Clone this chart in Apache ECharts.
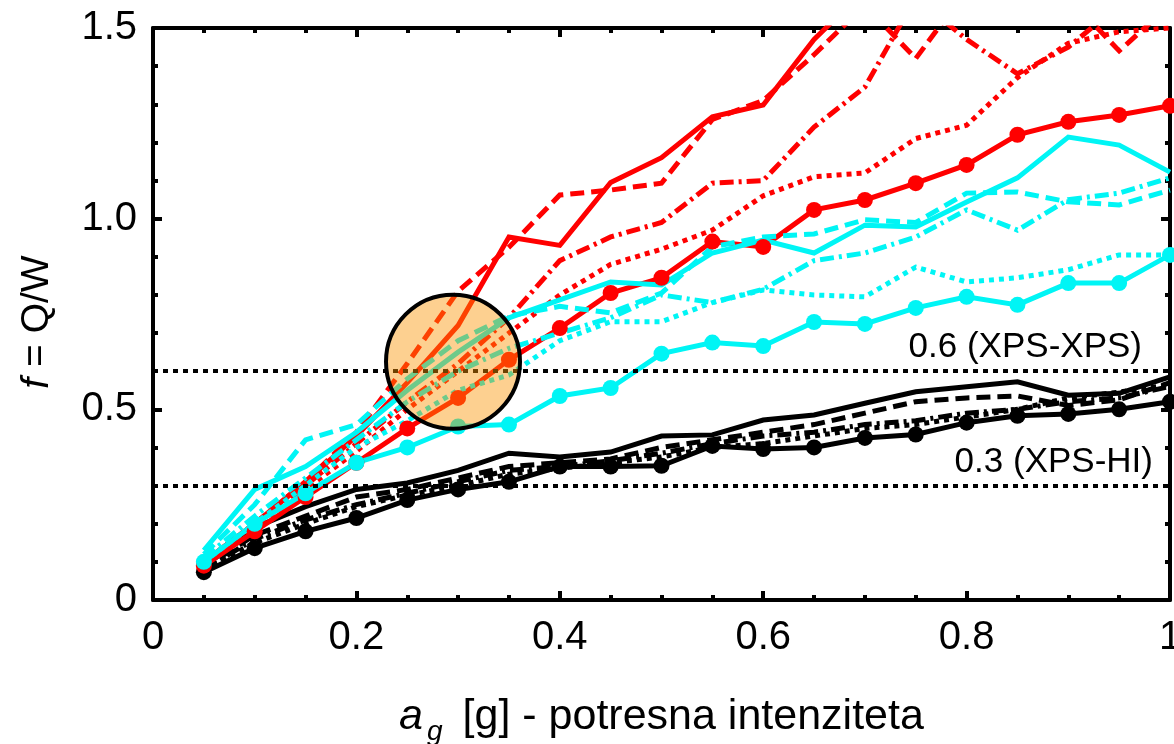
<!DOCTYPE html>
<html>
<head>
<meta charset="utf-8">
<script src="https://cdn.jsdelivr.net/npm/echarts@6/dist/echarts.min.js"></script>
<style>
  html, body { margin: 0; padding: 0; background: #fff; }
  #chart { width: 1174px; height: 744px; }
</style>
</head>
<body>
<div id="chart"></div>
<script>
// Ground acceleration a_g [g]
const ag = [0.05, 0.10, 0.15, 0.20, 0.25, 0.30, 0.35, 0.40, 0.45, 0.50,
            0.55, 0.60, 0.65, 0.70, 0.75, 0.80, 0.85, 0.90, 0.95, 1.00];

// Red family
const redMarked  = [0.09, 0.18, 0.27, 0.36, 0.45, 0.53, 0.63, 0.713, 0.805, 0.845, 0.94, 0.926, 1.023, 1.049, 1.093, 1.141, 1.22, 1.254, 1.272, 1.296];
const redSolid   = [0.10, 0.20, 0.31, 0.43, 0.57, 0.72, 0.952, 0.93, 1.095, 1.16, 1.267, 1.298, 1.47, 1.60, 1.65, 1.70, 1.75, 1.75, 1.80, 1.80];
const redDashed  = [0.10, 0.20, 0.31, 0.44, 0.62, 0.81, 0.925, 1.062, 1.075, 1.093, 1.26, 1.31, 1.43, 1.56, 1.42, 1.60, 1.62, 1.58, 1.44, 1.56];
const redDashDot = [0.10, 0.20, 0.30, 0.41, 0.52, 0.62, 0.74, 0.89, 0.952, 0.99, 1.093, 1.10, 1.24, 1.345, 1.58, 1.47, 1.38, 1.45, 1.56, 1.60];
const redDotted  = [0.10, 0.19, 0.29, 0.39, 0.50, 0.60, 0.70, 0.80, 0.88, 0.92, 0.97, 1.06, 1.11, 1.12, 1.21, 1.245, 1.37, 1.46, 1.49, 1.50];

// Cyan family
const cyanMarked  = [0.10, 0.20, 0.28, 0.36, 0.40, 0.455, 0.46, 0.535, 0.556, 0.646, 0.675, 0.666, 0.729, 0.724, 0.766, 0.795, 0.774, 0.831, 0.831, 0.905];
const cyanSolid   = [0.13, 0.29, 0.35, 0.44, 0.55, 0.65, 0.74, 0.787, 0.834, 0.826, 0.91, 0.944, 0.91, 0.983, 0.978, 1.044, 1.107, 1.214, 1.193, 1.122];
const cyanDashed  = [0.12, 0.25, 0.42, 0.46, 0.58, 0.68, 0.745, 0.77, 0.753, 0.805, 0.926, 0.952, 0.96, 0.997, 0.99, 1.067, 1.07, 1.044, 1.036, 1.075];
const cyanDashDot = [0.11, 0.22, 0.32, 0.42, 0.52, 0.60, 0.66, 0.70, 0.74, 0.80, 0.78, 0.815, 0.89, 0.91, 0.952, 1.023, 0.97, 1.05, 1.067, 1.107];
const cyanDotted  = [0.10, 0.20, 0.30, 0.40, 0.47, 0.55, 0.59, 0.68, 0.73, 0.73, 0.78, 0.813, 0.80, 0.795, 0.873, 0.834, 0.845, 0.866, 0.905, 0.905];

// Black family
const blackMarked  = [0.073, 0.136, 0.18, 0.215, 0.262, 0.29, 0.31, 0.35, 0.35, 0.352, 0.404, 0.396, 0.40, 0.425, 0.434, 0.465, 0.483, 0.488, 0.50, 0.52];
const blackSolid   = [0.087, 0.19, 0.245, 0.29, 0.307, 0.34, 0.385, 0.375, 0.388, 0.43, 0.433, 0.472, 0.485, 0.516, 0.546, 0.559, 0.572, 0.537, 0.542, 0.585];
const blackDashed  = [0.085, 0.17, 0.22, 0.27, 0.29, 0.32, 0.35, 0.36, 0.37, 0.40, 0.42, 0.44, 0.46, 0.49, 0.52, 0.53, 0.535, 0.51, 0.525, 0.57];
const blackDashDot = [0.08, 0.16, 0.21, 0.25, 0.28, 0.31, 0.34, 0.35, 0.365, 0.385, 0.41, 0.43, 0.44, 0.46, 0.47, 0.49, 0.50, 0.52, 0.53, 0.56];
const blackDotted  = [0.08, 0.15, 0.20, 0.245, 0.275, 0.30, 0.33, 0.345, 0.36, 0.375, 0.40, 0.41, 0.43, 0.45, 0.46, 0.48, 0.50, 0.53, 0.545, 0.565];

// Reference levels of the behaviour factor
const refLevels = [
  { value: 0.6, text: '0.6 (XPS-XPS)' },
  { value: 0.3, text: '0.3 (XPS-HI)' }
];

// Highlighted region (centre in data units)
const highlight = [[0.295, 0.625]];

// Tick labels
const xTickLabels = ['0', '0.2', '0.4', '0.6', '0.8', '1'];
const yTickLabels = ['0', '0.5', '1.0', '1.5'];

const FONT = "'Liberation Sans', Arial, sans-serif";
const RED = '#ff0000', CYAN = '#00f5f5', BLACK = '#000000';
const DASH = [14, 7], DASHDOT = [14, 5, 3, 5], DOT = [5, 5];

function pts(vals) { return ag.map((x, i) => [x, vals[i]]); }

function curve(vals, color, type, marked) {
  return {
    type: 'line',
    data: pts(vals),
    symbol: marked ? 'circle' : 'none',
    symbolSize: 16,
    showSymbol: !!marked,
    itemStyle: { color: color },
    lineStyle: { color: color, width: 5, type: type, cap: 'butt', join: 'miter' },
    z: 2,
    silent: true,
    animation: false
  };
}

const frameLine = { show: true, onZero: false, lineStyle: { color: '#000', width: 4 } };
const majorTick = { show: true, inside: true, length: 9, lineStyle: { color: '#000', width: 4 } };

function xAxisDef(pos, labels) {
  return {
    type: 'value', min: 0, max: 1, interval: 0.2, position: pos,
    axisLine: frameLine, axisTick: majorTick,
    minorTick: { show: true, splitNumber: 4, length: 5, lineStyle: { color: '#000', width: 4 } },
    splitLine: { show: false },
    axisLabel: {
      show: labels, fontSize: 40, color: '#000', fontFamily: FONT, margin: 18,
      formatter: v => xTickLabels[Math.round(v / 0.2)]
    }
  };
}
function yAxisDef(pos, labels) {
  return {
    type: 'value', min: 0, max: 1.5, interval: 0.5, position: pos,
    axisLine: frameLine, axisTick: majorTick,
    minorTick: { show: true, splitNumber: 5, length: 5, lineStyle: { color: '#000', width: 4 } },
    splitLine: { show: false },
    axisLabel: {
      show: labels, fontSize: 40, color: '#000', fontFamily: FONT, margin: 16,
      formatter: v => yTickLabels[Math.round(v / 0.5)]
    }
  };
}

const xMain = xAxisDef('bottom', true);
xMain.name = '{i|a}{sub|g}{t| [g] - potresna intenziteta}';
xMain.nameLocation = 'middle';
xMain.nameGap = 88;
xMain.nameTextStyle = {
  color: '#000', fontFamily: FONT, fontSize: 43,
  rich: {
    i: { fontSize: 43, fontStyle: 'italic', fontFamily: FONT, color: '#000' },
    sub: { fontSize: 28, fontStyle: 'italic', fontFamily: FONT, color: '#000', padding: [30, 8, 0, 4] },
    t: { fontSize: 43, fontFamily: FONT, color: '#000' }
  }
};

const yMain = yAxisDef('left', true);
yMain.name = '{i|f}{t| = Q/W}';
yMain.nameLocation = 'middle';
yMain.nameGap = 96;
yMain.nameRotate = 90;
yMain.nameTextStyle = {
  color: '#000', fontFamily: FONT, fontSize: 39, padding: [0, 16, 0, 0],
  rich: {
    i: { fontSize: 39, fontStyle: 'italic', fontFamily: FONT, color: '#000' },
    t: { fontSize: 39, fontFamily: FONT, color: '#000' }
  }
};

// Horizontal inset of each reference-level caption from the right frame
const captionInset = [28, 17];

const series = [
  curve(blackDotted, BLACK, DOT),
  curve(blackDashDot, BLACK, DASHDOT),
  curve(blackDashed, BLACK, DASH),
  curve(blackSolid, BLACK, 'solid'),
  curve(blackMarked, BLACK, 'solid', true),
  curve(redDotted, RED, DOT),
  curve(redDashDot, RED, DASHDOT),
  curve(redDashed, RED, DASH),
  curve(redSolid, RED, 'solid'),
  curve(redMarked, RED, 'solid', true),
  curve(cyanDotted, CYAN, DOT),
  curve(cyanDashDot, CYAN, DASHDOT),
  curve(cyanDashed, CYAN, DASH),
  curve(cyanSolid, CYAN, 'solid'),
  curve(cyanMarked, CYAN, 'solid', true),
  {
    type: 'line', data: [], silent: true, animation: false, z: 5,
    markLine: {
      silent: true, animation: false, symbol: ['none', 'none'],
      lineStyle: { color: '#000', width: 4, type: DOT },
      label: {
        show: true, position: 'insideEndTop',
        fontSize: 35, color: '#000', fontFamily: FONT
      },
      data: refLevels.map((r, i) => ({
        yAxis: r.value,
        label: { formatter: r.text, distance: [captionInset[i], 6] }
      }))
    }
  },
  {
    type: 'scatter', data: highlight, symbol: 'circle', symbolSize: 134,
    itemStyle: { color: 'rgba(250,148,2,0.44)', borderColor: '#000', borderWidth: 4, opacity: 1 },
    silent: true, animation: false, z: 10
  }
];

const chart = echarts.init(document.getElementById('chart'), null, { renderer: 'canvas' });
chart.setOption({
  backgroundColor: '#fff',
  animation: false,
  grid: { left: 153, right: 4, top: 28, bottom: 144, containLabel: false, outerBoundsMode: 'none' },
  xAxis: [xMain, xAxisDef('top', false)],
  yAxis: [yMain, yAxisDef('right', false)],
  series: series
});
</script>
</body>
</html>
